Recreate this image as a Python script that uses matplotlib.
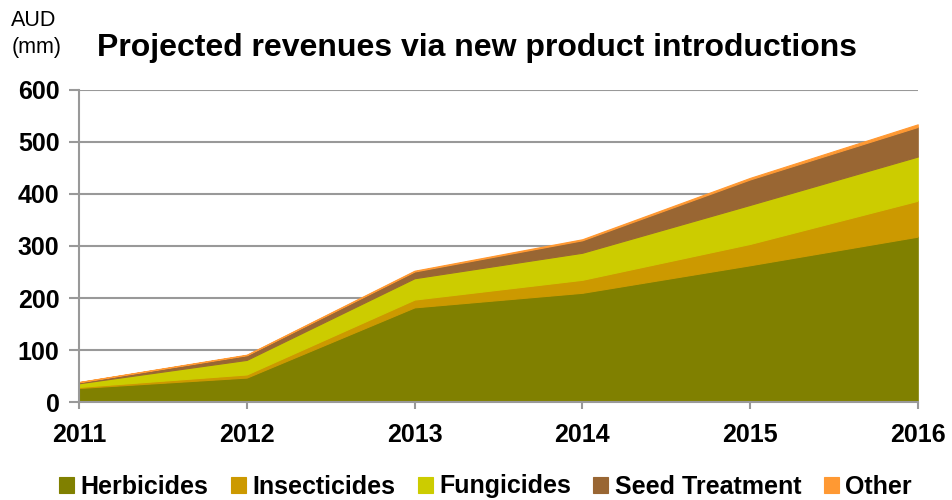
import matplotlib
matplotlib.use("Agg")
import matplotlib.pyplot as plt
import numpy as np

plt.rcParams['font.family'] = ['Liberation Sans', 'DejaVu Sans']

years = [2011, 2012, 2013, 2014, 2015, 2016]
herbicides = [27, 47, 182, 210, 263, 318]
insecticides = [2, 6, 15, 25, 41, 69]
fungicides = [7, 28, 41, 52, 75, 85]
seed_treatment = [2, 9, 13, 24, 49, 57]
other = [0.5, 1, 1.5, 2, 3, 5]

labels = ['Herbicides', 'Insecticides', 'Fungicides', 'Seed Treatment', 'Other']
colors = ['#808000', '#CC9900', '#CCCC00', '#996633', '#FF9933']

fig = plt.figure(figsize=(9.52, 5), dpi=100)
ax = fig.add_axes([0.083, 0.196, 0.881, 0.624])

polys = ax.stackplot(years, herbicides, insecticides, fungicides, seed_treatment, other,
                     colors=colors, labels=labels, zorder=2)
for p, c in zip(polys, colors):
    p.set_edgecolor(c)
    p.set_linewidth(0.8)

ax.set_xlim(2011, 2016)
ax.set_ylim(0, 600)
ax.set_yticks(np.arange(0, 601, 100))
ax.set_xticks(years)
ax.yaxis.grid(True, color='#999999', linewidth=1.5, zorder=0)
ax.set_axisbelow(True)

for s in ['top', 'right']:
    ax.spines[s].set_visible(False)
for s in ['left', 'bottom']:
    ax.spines[s].set_color('#999999')
    ax.spines[s].set_linewidth(1.5)
ax.tick_params(axis='both', colors='#999999', width=1.5, labelcolor='black', labelsize=18)
ax.tick_params(axis='y', length=7, pad=7)
ax.tick_params(axis='x', length=5, pad=10)
for t in ax.get_xticklabels() + ax.get_yticklabels():
    t.set_fontweight('bold')

fig.text(0.102, 0.904, 'Projected revenues via new product introductions',
         fontsize=23, fontweight='bold', va='center', ha='left')
fig.text(0.012, 0.958, 'AUD', fontsize=15.5, va='center', ha='left')
fig.text(0.012, 0.904, '(mm)', fontsize=15.5, va='center', ha='left')

leg = fig.legend(loc='center', bbox_to_anchor=(0.51, 0.027), ncol=5, frameon=False,
                 prop={'weight': 'bold', 'size': 18}, handlelength=0.6, handleheight=0.6,
                 handletextpad=0.25, columnspacing=0.9)

fig.savefig('out.png', dpi=100)
